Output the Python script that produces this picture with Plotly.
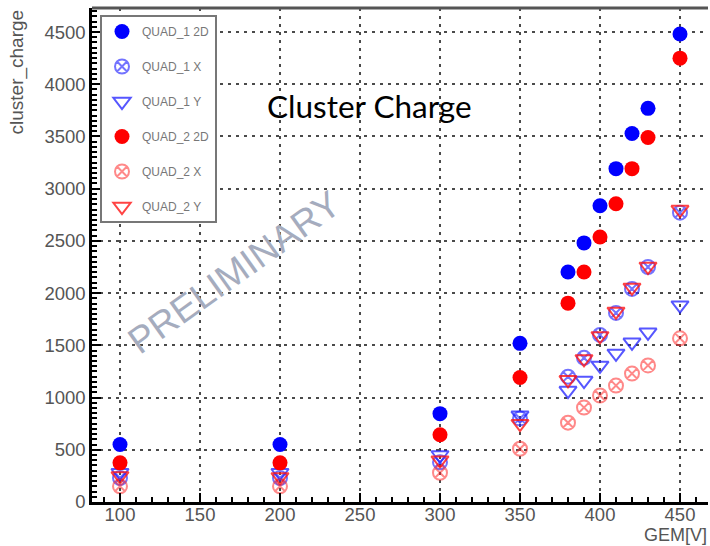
import plotly.graph_objects as go

# GEM voltage scan points
gem_voltage = [100, 200, 300, 350, 380, 390, 400, 410, 420, 430, 450]

# cluster charge per readout
quad1_2d = [550, 550, 846, 1519, 2202, 2481, 2837, 3192, 3529, 3769, 4481]
quad1_x = [230, 230, 380, 800, 1200, 1380, 1600, 1810, 2040, 2250, 2770]
quad1_y = [280, 280, 450, 830, 1067, 1163, 1308, 1423, 1529, 1625, 1885]
quad2_2d = [375, 375, 644, 1192, 1904, 2202, 2538, 2856, 3192, 3490, 4250]
quad2_x = [150, 150, 280, 510, 760, 904, 1020, 1115, 1230, 1308, 1567]
quad2_y = [250, 240, 400, 750, 1170, 1370, 1590, 1825, 2055, 2255, 2800]

series = [
    ("QUAD_1 2D", quad1_2d, "circle", "rgb(0,0,255)", 15, 0),
    ("QUAD_1 X", quad1_x, "circle-x-open", "rgba(40,40,255,0.65)", 14, 2),
    ("QUAD_1 Y", quad1_y, "triangle-down-open", "rgba(30,30,255,0.75)", 15, 2),
    ("QUAD_2 2D", quad2_2d, "circle", "rgb(255,0,0)", 15, 0),
    ("QUAD_2 X", quad2_x, "circle-x-open", "rgba(255,40,40,0.55)", 14, 2),
    ("QUAD_2 Y", quad2_y, "triangle-down-open", "rgba(255,20,20,0.8)", 15, 2),
]

fig = go.Figure()
for i, (name, vals, sym, col, size, lw) in enumerate(series):
    fig.add_trace(go.Scatter(
        x=gem_voltage, y=vals, mode="markers", name=name,
        legendgroup=f"g{i}",
        marker=dict(symbol=sym, size=size, color=col,
                    line=dict(color=col, width=lw)),
    ))

grid = dict(showgrid=True, gridcolor="#4a4a4a", gridwidth=2, griddash="3px,5px")
tick_font = dict(family="Liberation Sans", size=18.5, color="#555555")

fig.update_xaxes(
    range=[82.5, 467.5], tickvals=[100, 150, 200, 250, 300, 350, 400, 450],
    ticks="inside", ticklen=9, tickwidth=1.5, tickcolor="black",
    minor=dict(dtick=10, ticks="inside", ticklen=5, tickcolor="black", showgrid=False),
    showline=True, linecolor="black", linewidth=2.5, zeroline=False,
    tickfont=tick_font, ticklabelstandoff=-6, **grid,
)
fig.update_yaxes(
    range=[0, 4730], tickvals=[0, 500, 1000, 1500, 2000, 2500, 3000, 3500, 4000, 4500],
    ticks="inside", ticklen=9, tickwidth=1.5, tickcolor="black",
    minor=dict(dtick=50, ticks="inside", ticklen=5, tickcolor="black", showgrid=False),
    showline=True, linecolor="black", linewidth=2.5, zeroline=False,
    tickfont=tick_font, **grid,
)

# top frame edge
fig.add_shape(type="line", xref="paper", yref="paper", x0=0, x1=1, y0=1, y1=1,
              line=dict(color="#555555", width=3))

fig.add_annotation(text="Cluster Charge", xref="paper", yref="paper",
                   x=(369 - 92) / 616, y=1 - (106 - 8) / 494, showarrow=False,
                   xanchor="center", yanchor="middle",
                   font=dict(family="Lato", size=31.5, color="black"))
fig.add_annotation(text="PRELIMINARY", xref="paper", yref="paper",
                   x=(234 - 92) / 616, y=1 - (272 - 8) / 494, showarrow=False,
                   xanchor="center", yanchor="middle", textangle=-35.5,
                   font=dict(family="Liberation Sans", size=37, color="rgb(165,172,190)"))
fig.add_annotation(text="cluster_charge", xref="paper", yref="paper",
                   x=(16 - 92) / 616, y=1, xanchor="center", yanchor="top",
                   textangle=-90, showarrow=False,
                   font=dict(family="Liberation Sans", size=19, color="#555555"))
fig.add_annotation(text="GEM[V]", xref="paper", yref="paper",
                   x=1, y=-(546 - 502) / 494, xanchor="right", yanchor="bottom",
                   showarrow=False, borderpad=0,
                   font=dict(family="Liberation Sans", size=18, color="#555555"))

fig.update_layout(
    width=710, height=546,
    margin=dict(l=92, r=2, t=8, b=44),
    paper_bgcolor="white", plot_bgcolor="white",
    showlegend=True,
    legend=dict(x=8 / 616, y=1 - 7 / 494, xanchor="left", yanchor="top",
                bgcolor="white", bordercolor="#777777", borderwidth=2,
                tracegroupgap=16,
                font=dict(family="Liberation Sans", size=12, color="#777777")),
)

fig.write_html("out.html")
